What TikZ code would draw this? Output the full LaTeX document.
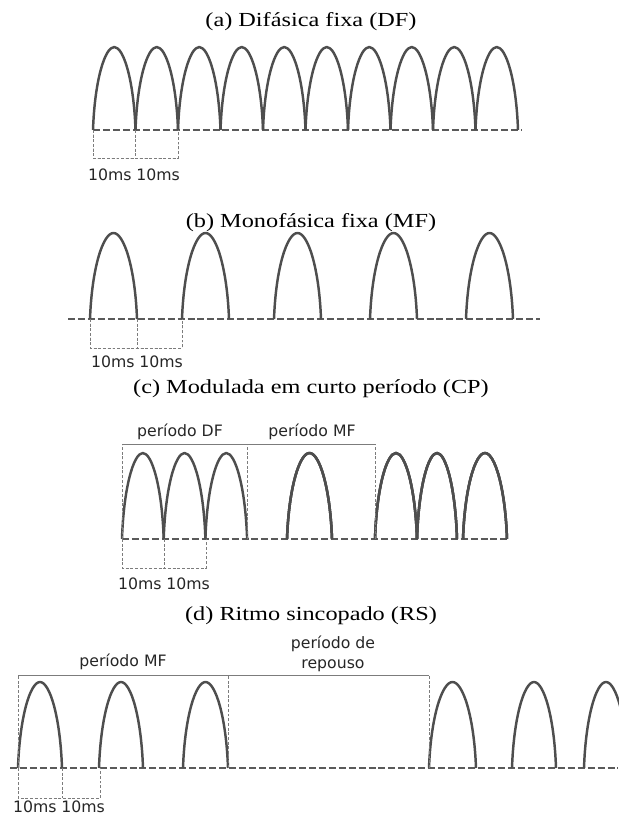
\documentclass[tikz,border=0pt]{standalone}
\usepackage{fontspec}
\setmainfont{Liberation Serif}
\newfontfamily\titlefont[FakeStretch=1.22]{Liberation Serif}
\newfontfamily\labelfont{DejaVu Sans}
\usepackage{tikz}
\definecolor{waveGray}{HTML}{4E4E4E}
\definecolor{axisGray}{HTML}{5A5A5A}
\definecolor{guideGray}{HTML}{7C7C7C}

% one pulse: start, width, baseline, height
\newcommand{\pulse}[4]{%
  \draw[wave] (#1,#3)
    .. controls ({#1+0.04*#2},{#3-0.6*#4}) and ({#1+0.28*#2},{#3-#4}) .. ({#1+#2/2},{#3-#4})
    .. controls ({#1+0.72*#2},{#3-#4}) and ({#1+0.96*#2},{#3-0.6*#4}) .. ({#1+#2},#3);}

\begin{document}
\begin{tikzpicture}[
  x=0.03cm, y=-0.03cm,
  wave/.style={draw=waveGray, line width=2.1pt, line join=round},
  axis/.style={draw=axisGray, line width=1.7pt, dash pattern=on 6pt off 2.5pt},
  guide/.style={draw=guideGray, line width=0.6pt, dash pattern=on 2.5pt off 1.5pt},
  bracket/.style={draw=guideGray, line width=0.6pt},
  title/.style={font=\titlefont\fontsize{17}{20}\selectfont, anchor=base, inner sep=0pt},
  lbl/.style={font=\labelfont\fontsize{13.4}{17}\selectfont, anchor=base, inner sep=0pt, text=black!85},
]
\useasboundingbox (0,0) rectangle (618,817);

% (a) Difasica fixa
\node[title] (ta) at (311,27) {(a) Difásica fixa (DF)};
\draw[axis] (93,130) -- (522,130);
\foreach \i in {0,...,9}
  \pulse{93+42.5*\i}{42.5}{130}{83}
\draw[guide] (93,130) -- (93,158) -- (178,158) -- (178,130);
\draw[guide] (135.5,130) -- (135.5,158);
\node[lbl] (la) at (134,180) {10ms 10ms};

% (b) Monofasica fixa
\node[title] (tb) at (311,227) {(b) Monofásica fixa (MF)};
\draw[axis] (68,319) -- (540,319);
\foreach \s in {90,182,274,370,466}
  \pulse{\s}{47}{319}{86}
\draw[guide] (90,319) -- (90,348) -- (182,348) -- (182,319);
\draw[guide] (137,319) -- (137,348);
\node[lbl] (lb) at (137,367) {10ms 10ms};

% (c) Modulada em curto periodo
\node[title] (tc) at (311,393) {(c) Modulada em curto período (CP)};
\draw[axis] (122,539) -- (508,539);
\foreach \s in {122,163.7,205.4}
  \pulse{\s}{41.7}{539}{86}
\pulse{287}{45}{539}{86}
\pulse{375}{42}{539}{86}
\pulse{417}{40}{539}{86}
\pulse{463}{44}{539}{86}
\draw[guide] (122,539) -- (122,444);
\draw[guide] (247,539) -- (247,444);
\draw[guide] (375,539) -- (375,444);
\draw[bracket] (122,444) -- (375,444);
\node[lbl] (pdf) at (180,436) {período DF};
\node[lbl] (pmf) at (312,436) {período MF};
\draw[guide] (122,539) -- (122,568) -- (206,568) -- (206,539);
\draw[guide] (164,539) -- (164,568);
\node[lbl] (lc) at (164,589) {10ms 10ms};

% (d) Ritmo sincopado
\node[title] (td) at (311,620) {(d) Ritmo sincopado (RS)};
\draw[axis] (10,768) -- (618,768);
\pulse{18}{44}{768}{86}
\pulse{99}{44}{768}{86}
\pulse{183}{45}{768}{86}
\pulse{429}{47}{768}{86}
\pulse{512}{44}{768}{86}
\pulse{584}{44}{768}{86}
\draw[guide] (18,768) -- (18,675);
\draw[guide] (228,768) -- (228,675);
\draw[guide] (429,768) -- (429,675);
\draw[bracket] (18,675) -- (429,675);
\node[lbl] (pmfd) at (123,666) {período MF};
\node[lbl, anchor=south, align=center] (prep) at (333,672) {período de\\repouso};
\draw[guide] (18,768) -- (18,798) -- (100,798) -- (100,768);
\draw[guide] (62,768) -- (62,798);
\node[lbl] (ld) at (59,812) {10ms 10ms};

\end{tikzpicture}
\end{document}
